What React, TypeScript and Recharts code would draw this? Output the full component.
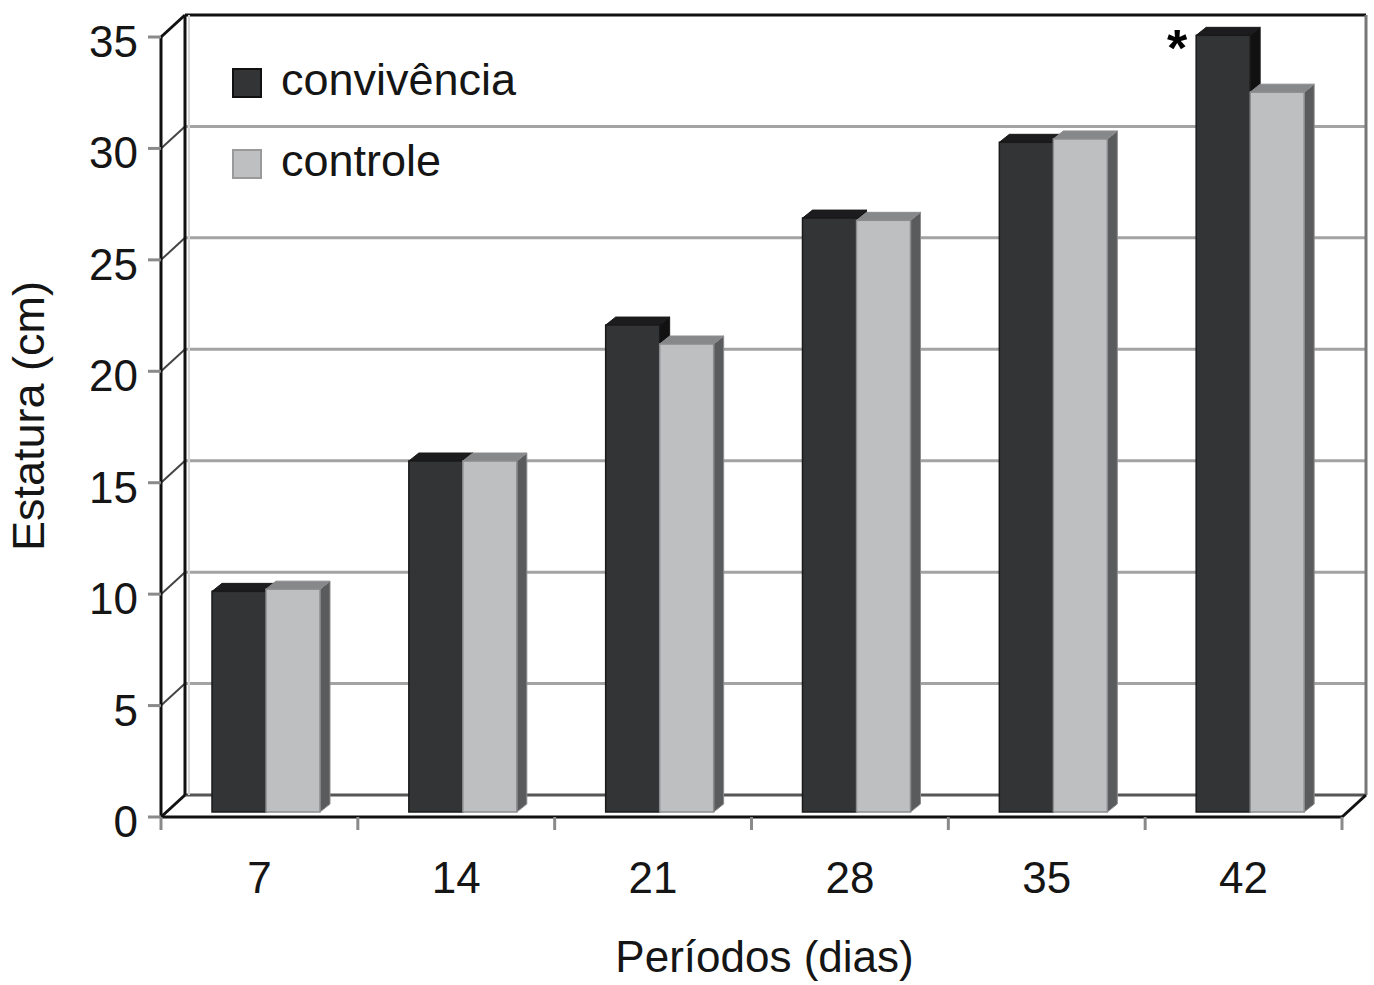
import React from "react";
import {
  BarChart,
  Bar,
  XAxis,
  YAxis,
  CartesianGrid,
  Legend,
  LabelList,
  Label,
  Customized,
} from "recharts";

// values (cm)
const periods = ["7", "14", "21", "28", "35", "42"];
const convivencia = [9.9, 15.75, 21.85, 26.65, 30.05, 34.85];
const controle = [10.0, 15.75, 21.0, 26.55, 30.2, 32.3];
const significance = ["", "", "", "", "", "*"];
const yTicks = [0, 5, 10, 15, 20, 25, 30, 35];

const data = periods.map((p, i) => ({
  periodo: p,
  convivencia: convivencia[i],
  controle: controle[i],
  sig: significance[i],
}));

const W = 1374;
const H = 985;
const MARGIN = { top: 37, right: 32, left: 0, bottom: 0 };
const Y_AXIS_W = 161;
const X_AXIS_H = 168;
const PLOT_L = MARGIN.left + Y_AXIS_W;
const PLOT_R = W - MARGIN.right;
const PLOT_T = MARGIN.top;
const PLOT_B = H - MARGIN.bottom - X_AXIS_H;

// fake 3d: depth of the box and of the bars
const DEPTH_X = 24;
const DEPTH_Y = 22;
const BAR_DX = 7;
const BAR_DY = 5;
const TOP_DX = 10;
const TOP_DY = 8;

const FONT = '"Liberation Sans", Arial, Helvetica, sans-serif';
const INK = "#151515";

const series = [
  { key: "convivencia", name: "convivência", face: "#333436", top: "#1c1c1e", side: "#111112", edge: "#1a1a1a", box: "#111" },
  { key: "controle", name: "controle", face: "#bdbfc1", top: "#87888a", side: "#5a5b5d", edge: "#8c8c8e", box: "#9a9a9a" },
];

const make3DBar = (s: (typeof series)[number]) => (props: any) => {
  const { x, y, width, height } = props;
  if (!(height > 0)) return <g />;
  const x0 = x + BAR_DX;
  const y0 = y - BAR_DY;
  const w = width;
  const h = height;
  return (
    <g>
      <polygon
        points={`${x0 + w},${y0} ${x0 + w + TOP_DX},${y0 - TOP_DY} ${x0 + w + TOP_DX},${y0 + h - TOP_DY} ${x0 + w},${y0 + h}`}
        fill={s.side}
        stroke={s.edge}
        strokeWidth={1}
      />
      <polygon
        points={`${x0},${y0} ${x0 + TOP_DX},${y0 - TOP_DY} ${x0 + w + TOP_DX},${y0 - TOP_DY} ${x0 + w},${y0}`}
        fill={s.top}
        stroke={s.edge}
        strokeWidth={1}
      />
      <rect x={x0} y={y0} width={w} height={h} fill={s.face} stroke={s.edge} strokeWidth={1.5} />
    </g>
  );
};

const gridLine = (p: any) => {
  const isTop = Math.abs(p.y1 - PLOT_T) < 1;
  const isBottom = Math.abs(p.y1 - PLOT_B) < 1;
  const back = isTop ? "#111" : isBottom ? "#555" : "#a3a3a3";
  return (
    <g key={p.key}>
      <line
        x1={p.x1 + DEPTH_X}
        y1={p.y1 - DEPTH_Y}
        x2={p.x2 + DEPTH_X}
        y2={p.y2 - DEPTH_Y}
        stroke={back}
        strokeWidth={3}
      />
      <line
        x1={p.x1}
        y1={p.y1}
        x2={p.x1 + DEPTH_X}
        y2={p.y1 - DEPTH_Y}
        stroke={isTop || isBottom ? "#111" : "#444"}
        strokeWidth={isTop || isBottom ? 3 : 2}
      />
    </g>
  );
};

const BackFrame = () => (
  <g>
    <line x1={PLOT_L + DEPTH_X} y1={PLOT_T - DEPTH_Y} x2={PLOT_L + DEPTH_X} y2={PLOT_B - DEPTH_Y} stroke="#111" strokeWidth={3} />
    <line x1={PLOT_L + DEPTH_X + 4} y1={PLOT_T - DEPTH_Y} x2={PLOT_L + DEPTH_X + 4} y2={PLOT_B - DEPTH_Y} stroke="#d4d4d4" strokeWidth={2} />
    <line x1={PLOT_R + DEPTH_X} y1={PLOT_T - DEPTH_Y} x2={PLOT_R + DEPTH_X} y2={PLOT_B - DEPTH_Y} stroke="#777" strokeWidth={3} />
  </g>
);

const FrontFrame = () => (
  <g>
    <line x1={PLOT_R} y1={PLOT_B} x2={PLOT_R + DEPTH_X} y2={PLOT_B - DEPTH_Y} stroke="#111" strokeWidth={3} />
  </g>
);

const XTick = (props: any) => {
  const { x, y, payload, index } = props;
  const band = (PLOT_R - PLOT_L) / periods.length;
  return (
    <g>
      <line x1={x - band / 2} y1={PLOT_B} x2={x - band / 2} y2={PLOT_B + 13} stroke="#8a8a8a" strokeWidth={3} />
      {index === periods.length - 1 && (
        <line x1={x + band / 2} y1={PLOT_B} x2={x + band / 2} y2={PLOT_B + 13} stroke="#8a8a8a" strokeWidth={3} />
      )}
      <text x={x} y={y + 76} textAnchor="middle" fontFamily={FONT} fontSize={44} fill={INK}>
        {payload.value}
      </text>
    </g>
  );
};

const YTick = (props: any) => {
  const { x, y, payload } = props;
  return (
    <text x={x} y={y + 20} textAnchor="end" fontFamily={FONT} fontSize={44} fill={INK}>
      {payload.value}
    </text>
  );
};

const renderYLabel = (props: any) => {
  const vb = props.viewBox;
  const cx = vb.x + 44;
  const cy = vb.y + vb.height / 2 - 11;
  return (
    <text x={cx} y={cy} transform={`rotate(-90 ${cx} ${cy})`} textAnchor="middle" fontFamily={FONT} fontSize={45} fill={INK}>
      Estatura (cm)
    </text>
  );
};

const renderXLabel = (props: any) => {
  const vb = props.viewBox;
  return (
    <text x={vb.x + vb.width / 2 + 13} y={vb.y + 155} textAnchor="middle" fontFamily={FONT} fontSize={44} fill={INK}>
      Períodos (dias)
    </text>
  );
};

const renderSig = (props: any) => {
  const { x, y, value } = props;
  if (!value) return null;
  return (
    <text x={x + BAR_DX - 19} y={y - BAR_DY + 31} textAnchor="middle" fontFamily={FONT} fontSize={52} fontWeight="bold" fill="#000">
      {value}
    </text>
  );
};

const renderLegend = () => (
  <div style={{ fontFamily: FONT, fontSize: 45, color: INK }}>
    {series.map((s) => (
      <div key={s.key} style={{ display: "flex", alignItems: "center", height: 81 }}>
        <span
          style={{
            width: 26,
            height: 26,
            background: s.face,
            border: `2px solid ${s.box}`,
            marginRight: 19,
            display: "inline-block",
          }}
        />
        <span style={{ lineHeight: "45px", marginTop: -6 }}>{s.name}</span>
      </div>
    ))}
  </div>
);

export default function App() {
  return (
    <div style={{ width: W, height: H, background: "#fff" }}>
      <style>{"body{margin:0}"}</style>
      <BarChart width={W} height={H} data={data} margin={MARGIN} barCategoryGap={44} barGap={0}>
        <Customized component={<BackFrame />} />
        <CartesianGrid vertical={false} horizontal={gridLine} />
        {series.map((s) => (
          <Bar
            key={s.key}
            dataKey={s.key}
            name={s.name}
            fill={s.face}
            shape={make3DBar(s)}
            isAnimationActive={false}
          >
            {s.key === "convivencia" && <LabelList dataKey="sig" content={renderSig} />}
          </Bar>
        ))}
        <Customized component={<FrontFrame />} />
        <XAxis
          dataKey="periodo"
          height={X_AXIS_H}
          tickLine={false}
          tickSize={0}
          tickMargin={0}
          axisLine={{ stroke: "#111", strokeWidth: 3 }}
          tick={<XTick />}
          interval={0}
        >
          <Label content={renderXLabel} />
        </XAxis>
        <YAxis
          type="number"
          width={Y_AXIS_W}
          domain={[0, 35]}
          ticks={yTicks}
          interval={0}
          tickSize={13}
          tickMargin={10}
          tickLine={{ stroke: "#8a8a8a", strokeWidth: 3 }}
          axisLine={{ stroke: "#111", strokeWidth: 3 }}
          tick={<YTick />}
        >
          <Label content={renderYLabel} />
        </YAxis>
        <Legend
          layout="vertical"
          align="center"
          verticalAlign="middle"
          content={renderLegend}
          wrapperStyle={{ top: 42, left: 232, width: "auto", height: "auto" }}
        />
      </BarChart>
    </div>
  );
}
